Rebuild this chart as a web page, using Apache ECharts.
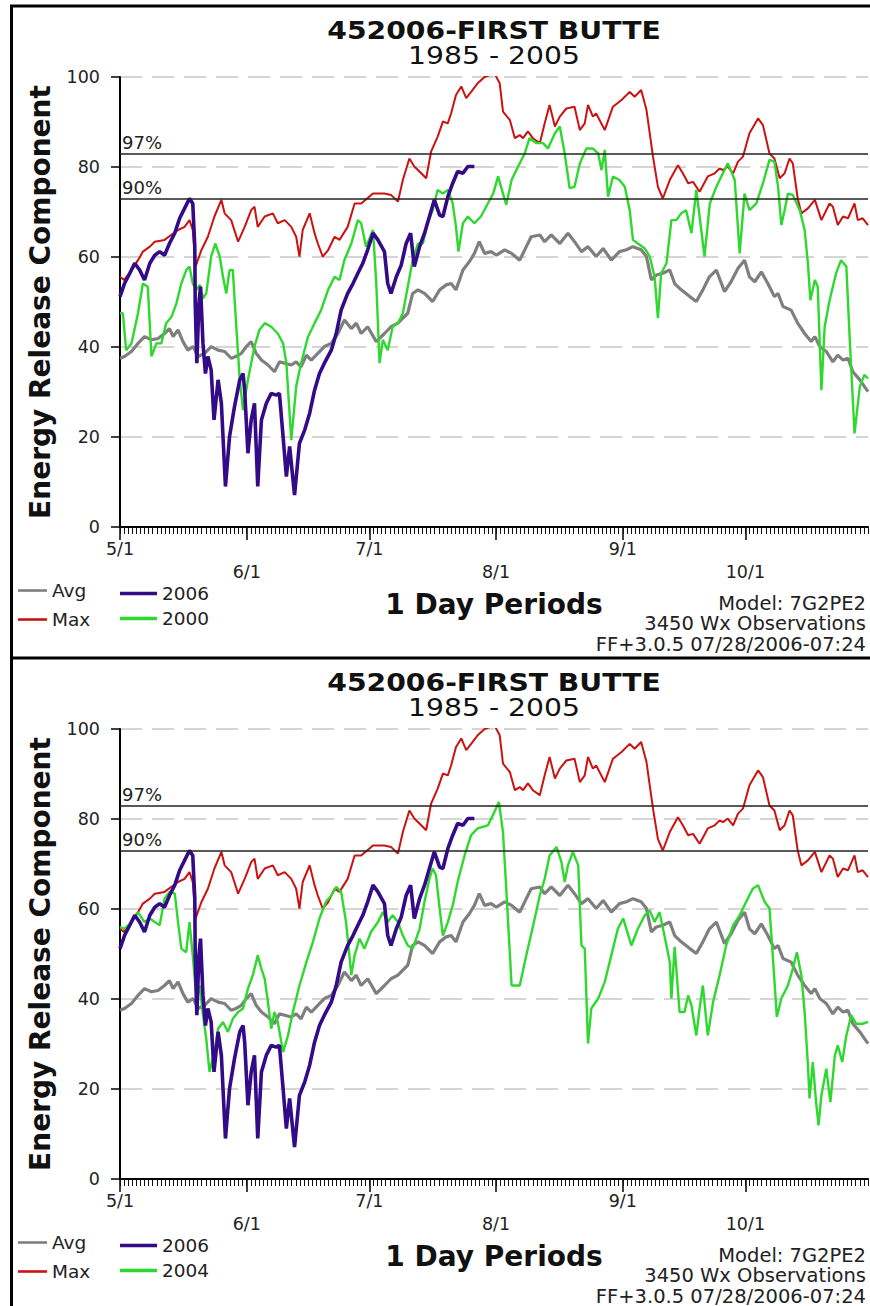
<!DOCTYPE html>
<html>
<head>
<meta charset="utf-8">
<script src="https://cdn.jsdelivr.net/npm/echarts@6/dist/echarts.min.js"></script>
<style>
html,body{margin:0;padding:0;background:#fff;}
#chart{width:870px;height:1306px;}
</style>
</head>
<body>
<div id="chart"></div>
<script>
// ---------- DATA ----------
var monthDays = [0, 31, 61, 92, 123, 153];
var monthLabels = ['5/1', '6/1', '7/1', '8/1', '9/1', '10/1'];
var thresholds = [83, 73];
var thresholdLabels = ['97%', '90%'];
var titleLines = ['452006-FIRST BUTTE', '1985 - 2005'];
var footLines = ['Model: 7G2PE2', '3450 Wx Observations', 'FF+3.0.5 07/28/2006-07:24'];

// [day since 5/1, ERC]
var avgErc = [[0,37.5],[1.1,37.9],[2.8,39],[4.4,40.8],[6,42.3],[7.7,41.6],[9.3,41.9],[10.9,43],[12.1,44.1],[13,42.3],[14.2,43.8],[15.4,41.2],[16.6,39.3],[17.9,40.1],[19.1,37.9],[20.7,38.6],[22.3,40.1],[24,39.3],[25.6,39],[27.2,37.5],[28.4,37.9],[29.7,38.6],[30.9,40.1],[32.1,41.2],[33.3,38.6],[34.6,37.1],[36.2,36],[37.8,34.5],[39,36.7],[40.3,36.4],[41.9,36],[43.1,36.7],[44.3,35.6],[45.6,38.2],[46.8,37.1],[48.4,38.6],[50,40.1],[51.7,40.8],[53.3,43],[54.9,46],[56.6,44.1],[57.8,45.3],[59,43],[60.6,44.5],[62.7,41.2],[64.7,43],[66.3,44.5],[68,45.3],[69.2,46.4],[70.4,47.5],[71.6,51.9],[72.9,52.7],[74.5,51.9],[76.5,50.1],[78.2,52.7],[79.8,53.8],[81,54.1],[82.2,52.7],[83.9,57.1],[85.5,59],[86.7,60.8],[87.9,63.4],[89.2,60.8],[90.8,61.2],[92.1,60.4],[94.1,61.6],[95.8,60.8],[97.8,59.3],[99.4,62.3],[100.6,64.5],[102.7,64.9],[103.9,63.4],[105.5,64.9],[107.6,63],[109.6,65.3],[111.2,63.4],[112.9,61.2],[114.5,62.3],[116.5,60.1],[118.2,61.9],[120.2,59.3],[122.2,61.2],[123.9,61.6],[125.5,62.3],[127.5,61.6],[128.8,60.1],[130,54.9],[131.2,56],[132.8,56.4],[134.5,57.1],[135.7,54.1],[137.3,52.7],[139.4,51.2],[141,50.1],[142.6,52.7],[144.2,55.6],[145.9,57.1],[147.9,52.3],[149.5,54.5],[151.2,57.5],[152.8,59.3],[154,55.6],[155.3,54.5],[156.9,56.7],[158.5,54.1],[160.1,51.2],[161,51.9],[162.2,49],[164.2,48.2],[165.8,45.3],[167.5,43],[169.1,41.2],[170,42.3],[171.2,40.1],[172.8,39],[174.4,36.7],[175.6,38.2],[176.9,37.1],[178.1,37.5],[179.3,34.5],[181,32.7],[183,30.1]];

var maxErc = [[0,55.6],[1,54.9],[2.8,57],[4.4,59.3],[5.6,61.2],[7.3,62.3],[8.5,63.4],[10.9,63.8],[12.5,64.9],[14.2,66],[15.8,66.7],[17,68.2],[17.8,66],[18.5,57.9],[19.9,61.5],[21.5,64.5],[23.1,69],[24.8,72.7],[25.6,69.7],[27.2,68.2],[28.9,63.4],[30.5,66.7],[32.1,70.4],[32.9,71.2],[33.7,66.7],[35.4,69],[37.4,69.7],[38.6,67.5],[40.3,68.2],[41.9,66.7],[43.1,64.5],[43.9,60.1],[44.7,66],[46.4,69.7],[47.6,65.3],[48.4,63],[49.6,60.1],[50.9,61.5],[52.5,64.5],[53.7,63.8],[55.7,66.7],[57.4,71.9],[59,71.9],[61.9,74.1],[64.7,74.1],[66.3,73.8],[68,72.3],[69.2,77.1],[70.8,81.9],[72,80.1],[73.7,78.6],[74.9,77.5],[76.1,83.4],[77.7,86.7],[79,90.1],[80.2,89.7],[81,91.9],[82.2,96],[83.5,97.9],[84.7,95.3],[85.9,96.7],[87.5,98.6],[89.2,100],[91.6,100.8],[92.9,98.6],[93.7,92.3],[95.4,90.4],[96.6,86.4],[97.8,87.1],[98.6,86.4],[99.8,87.9],[101,86.4],[102.7,85.3],[103.9,89.7],[105.1,93.8],[106.4,89],[107.6,91.2],[109.2,93],[111.2,93.4],[112.5,88.2],[113.7,89.7],[114.5,93.8],[115.7,91.2],[116.5,91.9],[118.6,88.2],[120.6,93.4],[122.7,94.9],[124.7,96.7],[125.9,95.6],[127.5,97.1],[128.8,92.7],[130.4,82.3],[131.6,75.6],[132.8,73],[134.5,77.1],[136.5,80.4],[137.7,78.6],[139,76.4],[140.2,76.7],[141.8,74.5],[143.8,77.9],[145.5,78.6],[146.7,79.7],[147.5,79.3],[148.7,80.1],[150,78.6],[151.2,81.2],[152.4,82.3],[154,87.5],[156.1,90.8],[157.3,89.3],[158.9,83],[160.1,81.9],[161.4,77.5],[162.6,78.6],[163.8,81.9],[164.6,80.8],[165.8,73],[166.7,69.7],[168.3,70.8],[170,72.7],[171.6,68.2],[173.6,71.9],[174.4,71.2],[175.6,67.1],[176.9,69],[178.1,68.6],[179.7,71.9],[180.5,68.2],[181.7,68.6],[183,67.1]];

var erc2006 = [[0,51.2],[1.1,54.1],[2.4,56.4],[3.6,58.6],[4.8,57.1],[6,54.9],[7.3,58.6],[8.5,60.4],[9.7,61.2],[10.9,60.4],[12.1,63],[13.4,65.3],[14.6,68.6],[15.8,70.8],[17,73],[17.8,71.9],[18.3,62.3],[18.4,49.7],[18.8,36.4],[19.3,49.7],[19.7,53.4],[20.3,40.8],[20.9,34.1],[21.5,37.9],[22.3,34.9],[23,23.8],[24,32.7],[24.8,27.5],[25.8,9],[26.8,20.1],[28,26.7],[29.3,32.7],[30.1,34.1],[30.5,30.4],[31.3,16.4],[32.1,23.8],[32.9,27.5],[33.7,9],[34.6,23.8],[35.8,27.5],[37,29.7],[38.2,29.3],[39,29.7],[39.9,20.1],[40.7,11.2],[41.5,17.9],[42.7,7.1],[43.9,18.6],[45.2,21.6],[46.4,25.3],[47.6,30.4],[48.8,34.1],[50,36.4],[51.7,39.3],[52.9,43],[54.1,48.2],[55.7,51.9],[57,54.1],[58.2,56.4],[59.4,58.6],[60.6,61.6],[61.9,65.3],[63.1,63.8],[64.7,61.2],[65.5,54.1],[66.3,51.9],[67.6,55.6],[68.8,58.2],[70,63],[71.1,65.3],[72,57.9],[73.3,62.3],[74.5,65.3],[75.7,69],[76.9,72.7],[78.2,69.3],[79,69],[80.2,73.4],[81.4,76.4],[82.6,79],[83.9,78.6],[85.1,80.1],[86.7,80.1]];

var erc2000 = [[0,47.5],[0.7,47.5],[1.5,39.3],[2.8,40.8],[4.4,47.5],[5.6,54.1],[6.8,53.4],[7.7,37.9],[8.9,40.8],[10.1,40.8],[11.3,45.3],[12.6,46.7],[13.8,49.7],[15,54.1],[16.2,57.1],[17,57.9],[17.8,54.1],[18.7,52.7],[19.5,53.8],[20.3,50.8],[21.1,51.9],[22.3,60.1],[23.3,63],[24.4,60.1],[25.2,55.6],[26,51.9],[26.8,57.1],[27.6,57.1],[28.4,45.3],[29.3,32.7],[30.1,26],[31.3,32.7],[32.9,40.1],[34.1,43.8],[35.4,45.3],[37,44.5],[38.6,43],[39.9,40.8],[40.7,36.4],[41.9,19.3],[43.1,31.2],[44.3,36.4],[46,42.3],[47.6,45.3],[49.2,48.2],[50.9,52.7],[52.5,55.6],[53.7,54.9],[54.9,59.3],[56.6,63],[58.2,68.2],[59,67.5],[60.2,62.3],[61.9,66],[62.7,54.1],[63.5,36.4],[64.3,41.6],[65.5,39.3],[66.7,44.5],[68,45.3],[69.2,47.5],[70.4,53.4],[71.6,59.3],[72.9,63],[74.1,63],[75.3,67.5],[76.5,70.4],[77.7,74.9],[79,74.1],[80.2,74.9],[81.4,71.9],[82.2,66.7],[82.8,61.2],[83.9,67.5],[85.1,69],[86.7,67.5],[88.3,69],[90,71.9],[91.3,74.1],[92.5,77.9],[93.7,74.1],[94.5,71.6],[95.8,77.1],[97.4,80.1],[99,83],[100.2,86.4],[101.9,85.3],[103.5,85.3],[104.7,84.1],[106.4,87.5],[107.6,89],[108.8,83],[110,75.3],[111.2,75.6],[112.5,80.8],[114.1,84.1],[115.7,84.1],[117,83],[117.8,79.3],[118.6,83.8],[119.4,73.4],[120.6,77.9],[122.2,77.1],[123.5,75.6],[124.7,70.4],[125.5,63.8],[126.7,63],[128.4,61.9],[129.6,60.1],[130.8,55.6],[131.6,46.4],[132.4,56.4],[133.7,58.6],[134.9,68.2],[136.1,68.2],[137.3,69.7],[138.5,70.4],[139.8,65.3],[141,74.9],[141.8,69],[143,60.1],[144.3,71.9],[145.9,75.6],[147.5,78.6],[148.7,80.8],[150.4,77.1],[151.6,60.8],[152.8,74.1],[154,70.4],[155.7,71.9],[157.3,76.4],[158.9,81.6],[160.1,81.2],[161,75.6],[161.8,67.1],[162.6,70.4],[163.4,74.1],[164.6,73.8],[166.3,70.4],[167.5,66],[168.3,58.6],[168.9,50.4],[170,54.9],[170.7,53.4],[171.6,30.4],[172.4,44.5],[173.6,50.4],[175.2,56.4],[176.4,59.3],[177.7,57.9],[178.5,42.3],[179.7,20.8],[181,31.2],[182.1,33.8],[183,33]];

var erc2004 = [[0,56],[1.1,55.6],[2.8,57.1],[4.4,59.3],[6,57.1],[7.3,57.9],[8.5,57.1],[9.7,56.4],[10.9,62.3],[12.1,63.8],[13.4,63.4],[14.2,57.1],[15,51.2],[16.2,50.4],[17,57.1],[17.8,49.7],[18.7,40.1],[19.5,43],[20.3,36.4],[21.1,31.2],[21.9,23.8],[23.1,28.2],[24,33.4],[25.2,34.9],[26.4,32.7],[27.6,35.6],[28.9,37.1],[30.1,37.9],[31.3,42.3],[32.5,45.3],[33.7,49.7],[34.6,46.7],[35.4,44.5],[36.2,39.3],[37,33.4],[37.8,37.1],[38.6,34.9],[39.9,28.2],[41.1,31.9],[42.3,37.1],[43.9,43],[45.6,48.2],[47.2,52.7],[48.8,57.9],[50.4,61.6],[51.7,63],[52.9,64.9],[54.1,63.8],[55.3,57.1],[56.6,45.3],[57.4,49.7],[58.6,53.4],[59.8,51.2],[61.4,54.9],[63.1,57.1],[64.3,59.3],[65.5,57.1],[66.7,58.6],[68,57.1],[69.2,54.1],[70.4,51.9],[71.6,51.2],[73.3,55.6],[74.5,61.6],[75.7,66.7],[76.5,69],[77.3,67.5],[78.2,60.1],[79,54.1],[80.2,57.1],[81.4,60.8],[82.6,66],[84.3,71.9],[85.9,76.4],[87.5,77.9],[90,78.6],[91.2,80.8],[92.7,83.8],[93.7,77.1],[94.5,64.5],[95.4,49.7],[95.8,43],[97.8,43],[99.4,49.7],[101.1,56.4],[102.7,63],[103.9,66.7],[105.1,71.9],[106.8,73.8],[108,70.4],[108.8,66],[109.6,69.7],[110.8,72.7],[112.1,69.7],[112.9,51.9],[113.7,51.2],[114.5,30.1],[115.3,37.9],[117,40.1],[118.6,43.8],[120.2,49.7],[121.8,55.6],[123.1,57.9],[125.1,51.9],[126.7,55.6],[128.4,58.6],[129.6,59.7],[130.8,57.1],[132,59.3],[133.2,54.1],[134.5,48.2],[134.9,40.1],[135.7,51.6],[136.9,37.1],[138.1,37.1],[139,40.8],[139.8,38.6],[141,31.9],[141.8,37.9],[142.6,43],[143.8,31.9],[145.1,39.3],[146.7,45.3],[148.3,51.9],[150,56.4],[151.6,58.6],[153.2,61.6],[154.8,64.5],[156.1,65.3],[157.7,61.6],[158.9,60.1],[159.7,49.7],[160.7,36],[161.8,40.1],[163.4,43],[164.6,46.7],[165.6,50.4],[166.7,45.3],[167.5,37.1],[168.3,25.3],[168.7,17.9],[169.5,26],[170.3,17.1],[170.9,11.9],[171.6,18.6],[172.8,24.5],[173.8,17.1],[174.9,27.5],[175.6,29.7],[176.7,26],[177.7,31.9],[178.9,36.4],[180.1,34.5],[181.7,34.5],[183,34.9]];

// ---------- CHART ----------
var FONT = '"DejaVu Sans", Verdana, sans-serif';
var PANEL_OFFSET = 652;
var COLORS = {avg: '#7f7f7f', max: '#cc1111', y2006: '#330a88', comp: '#2fd82f'};

var allDays = [];
for (var d = 0; d <= 183; d++) allDays.push(d);

function monthLabel(v) {
  var i = monthDays.indexOf(Math.round(v));
  if (i < 0) return '';
  return (i % 2 === 1 ? '\n' : '') + monthLabels[i];
}

var grids = [], xAxes = [], yAxes = [], series = [], legends = [], graphics = [];

function addPanel(p, compName, compData) {
  var top = 77 + p * PANEL_OFFSET;
  grids.push({left: 120, top: top, width: 748, height: 450, containLabel: false});
  // month axis (labels + long ticks)
  xAxes.push({
    type: 'value', gridIndex: p, position: 'bottom', min: 0, max: 183, splitLine: {show: false},
    axisLine: {show: true, onZero: false, lineStyle: {color: '#000', width: 2}},
    axisTick: {show: true, customValues: monthDays, length: 13, lineStyle: {color: '#000', width: 1.5}},
    axisLabel: {show: true, customValues: monthDays, formatter: monthLabel, margin: 10,
      fontFamily: FONT, fontSize: 17.5, lineHeight: 23, color: '#222'}
  });
  // daily minor ticks
  xAxes.push({
    type: 'value', gridIndex: p, position: 'bottom', min: 0, max: 183, splitLine: {show: false},
    axisLine: {show: false, onZero: false},
    axisTick: {show: true, customValues: allDays, length: 7, lineStyle: {color: '#111', width: 1}},
    axisLabel: {show: false}
  });
  yAxes.push({
    type: 'value', gridIndex: p, min: 0, max: 100, interval: 20,
    axisLine: {show: true, lineStyle: {color: '#000', width: 2}},
    axisTick: {show: true, length: 9, lineStyle: {color: '#000', width: 1.5}},
    axisLabel: {fontFamily: FONT, fontSize: 17.5, color: '#222', margin: 20, padding: [0, 0, 12, 0]},
    splitLine: {show: true, lineStyle: {color: '#c8c8c8', width: 1.5, type: [22, 10]}}
  });
  var xi = p * 2, yi = p;
  series.push({
    name: 'Avg', type: 'line', xAxisIndex: xi, yAxisIndex: yi, data: avgErc,
    symbol: 'none', lineStyle: {color: COLORS.avg, width: 3.2}, itemStyle: {color: COLORS.avg},
    markLine: {
      silent: true, symbol: 'none',
      lineStyle: {color: '#222', width: 1.5, type: 'solid'},
      label: {position: 'insideStartTop', fontFamily: FONT, fontSize: 18, color: '#222', distance: [2, 2]},
      data: thresholds.map(function (v, i) { return {yAxis: v, label: {formatter: thresholdLabels[i]}}; })
    }
  });
  series.push({
    name: 'Max', type: 'line', xAxisIndex: xi, yAxisIndex: yi, data: maxErc,
    symbol: 'none', lineStyle: {color: COLORS.max, width: 2}, itemStyle: {color: COLORS.max}
  });
  series.push({
    name: compName, type: 'line', xAxisIndex: xi, yAxisIndex: yi, data: compData,
    symbol: 'none', lineStyle: {color: COLORS.comp, width: 2.4}, itemStyle: {color: COLORS.comp}
  });
  series.push({
    name: '2006', type: 'line', xAxisIndex: xi, yAxisIndex: yi, data: erc2006,
    symbol: 'none', lineStyle: {color: COLORS.y2006, width: 3.6}, itemStyle: {color: COLORS.y2006}
  });

  var off = p * PANEL_OFFSET;
  var legText = {fontFamily: FONT, fontSize: 18.5, color: '#222', lineHeight: 16};
  legends.push({data: ['Avg', 'Max'], orient: 'vertical', left: 18, top: 581 + off, padding: 0,
    icon: 'rect', itemWidth: 29, itemHeight: 2.6, itemGap: 10, selectedMode: false, textStyle: legText});
  legends.push({data: ['2006', compName], orient: 'vertical', left: 120, top: 584 + off, padding: 0,
    icon: 'rect', itemWidth: 37, itemHeight: 3.4, itemGap: 6, selectedMode: false, textStyle: legText});

  // texts
  graphics.push({type: 'text', x: 494, y: 30 + off, scaleX: 1.13, style: {text: titleLines[0], fontFamily: FONT, fontWeight: 'bold', fontSize: 25, lineHeight: 25, fill: '#111', align: 'center', verticalAlign: 'middle'}});
  graphics.push({type: 'text', x: 494, y: 55 + off, scaleX: 1.13, style: {text: titleLines[1], fontFamily: FONT, fontWeight: 'normal', fontSize: 25, lineHeight: 25, fill: '#111', align: 'center', verticalAlign: 'middle'}});
  graphics.push({type: 'text', x: 494, y: 604 + off, style: {text: '1 Day Periods', fontFamily: FONT, fontWeight: 'bold', fontSize: 28, fill: '#111', align: 'center', verticalAlign: 'middle'}});
  graphics.push({type: 'text', x: 40, y: 302 + off, rotation: Math.PI / 2, style: {text: 'Energy Release Component', fontFamily: FONT, fontWeight: 'bold', fontSize: 28, fill: '#111', align: 'center', verticalAlign: 'middle'}});
  for (var k = 0; k < footLines.length; k++) {
    graphics.push({type: 'text', x: 866, y: 603 + k * 20.5 + off, style: {text: footLines[k], fontFamily: FONT, fontSize: 19.5, lineHeight: 18, fill: '#222', align: 'right', verticalAlign: 'middle'}});
  }
  // panel frame
  graphics.push({type: 'line', shape: {x1: 10, y1: 6 + off, x2: 870, y2: 6 + off}, style: {stroke: '#000', lineWidth: 3}});
  graphics.push({type: 'line', shape: {x1: 11.5, y1: 6 + off, x2: 11.5, y2: 660 + off}, style: {stroke: '#000', lineWidth: 3}});
}

addPanel(0, '2000', erc2000);
addPanel(1, '2004', erc2004);

var chart = echarts.init(document.getElementById('chart'), null, {renderer: 'svg'});
chart.setOption({
  animation: false,
  backgroundColor: '#fff',
  grid: grids, xAxis: xAxes, yAxis: yAxes, series: series, legend: legends,
  graphic: {elements: graphics}
});
</script>
</body>
</html>
